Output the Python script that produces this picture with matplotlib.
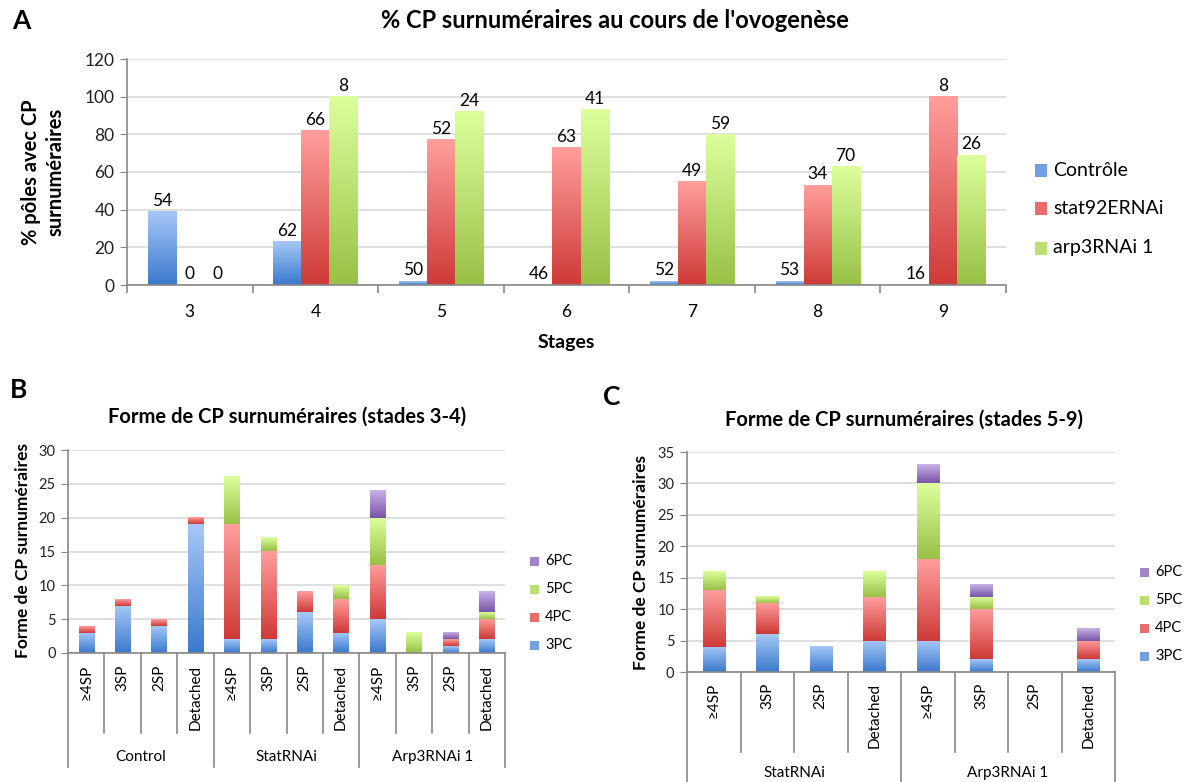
import numpy as np
import matplotlib
matplotlib.use('Agg')
import matplotlib.pyplot as plt
from matplotlib.colors import LinearSegmentedColormap
from matplotlib.patches import Rectangle

plt.rcParams['font.family'] = ['Lato', 'DejaVu Sans']

# Panel A: % of poles with supernumerary CP per stage, with n above each bar
stages = ['3', '4', '5', '6', '7', '8', '9']
ctrl_pct = [39, 23, 2, 0, 2, 2, 0]
stat_pct = [0, 82, 77, 73, 55, 53, 100]
arp_pct = [0, 100, 92, 93, 80, 63, 69]
ctrl_n = [54, 62, 50, 46, 52, 53, 16]
stat_n = [0, 66, 52, 63, 49, 34, 8]
arp_n = [0, 8, 24, 41, 59, 70, 26]
series_a = ['Contrôle', 'stat92ERNAi', 'arp3RNAi 1']

# Panels B and C: shape of supernumerary CP (stacked 3PC..6PC)
shapes = ['≥4SP', '3SP', '2SP', 'Detached']
layers = ['3PC', '4PC', '5PC', '6PC']

groups_b = ['Control', 'StatRNAi', 'Arp3RNAi 1']
b_3pc = [3, 7, 4, 19, 2, 2, 6, 3, 5, 0, 1, 2]
b_4pc = [1, 1, 1, 1, 17, 13, 3, 5, 8, 0, 1, 3]
b_5pc = [0, 0, 0, 0, 7, 2, 0, 2, 7, 3, 0, 1]
b_6pc = [0, 0, 0, 0, 0, 0, 0, 0, 4, 0, 1, 3]

groups_c = ['StatRNAi', 'Arp3RNAi 1']
c_3pc = [4, 6, 4, 5, 5, 2, 0, 2]
c_4pc = [9, 5, 0, 7, 13, 8, 0, 3]
c_5pc = [3, 1, 0, 4, 12, 2, 0, 0]
c_6pc = [0, 0, 0, 0, 3, 2, 0, 2]

# (light top, dark bottom) gradient colours
BLUE = ('#A6C8F7', '#3B79CD')
RED = ('#FF9E9C', '#CE3A37')
GREEN = ('#DDFF9C', '#98C146')
PURPLE = ('#C8B2E8', '#7954A8')
GRID = '#D9D9D9'
AXIS = '#888888'

W, H = 1185, 782


def px_rect(left, top, right, bottom):
    return [left / W, 1 - bottom / H, (right - left) / W, (bottom - top) / H]


def fill_gradient(ax, bars, light, dark):
    cmap = LinearSegmentedColormap.from_list('grad', [dark, light])
    grad = np.linspace(0, 1, 100).reshape(-1, 1)
    for b in bars:
        h = b.get_height()
        if h <= 0:
            continue
        x0, y0, w = b.get_x(), b.get_y(), b.get_width()
        ax.imshow(grad, cmap=cmap, origin='lower', aspect='auto',
                  extent=(x0, x0 + w, y0, y0 + h), zorder=2,
                  interpolation='bilinear')


def mid(c):
    a = np.array(matplotlib.colors.to_rgb(c[0]))
    b = np.array(matplotlib.colors.to_rgb(c[1]))
    return tuple((a + b) / 2)


def legend_px(fig, x, ys, labels, colors, size, box_w, box_h):
    for y, lab, col in zip(ys, labels, colors):
        fig.add_artist(Rectangle(((x) / W, 1 - (y + box_h / 2) / H),
                                 box_w / W, box_h / H, facecolor=mid(col),
                                 edgecolor='none', transform=fig.transFigure))
        fig.text((x + box_w + 6) / W, 1 - y / H, lab, fontsize=size,
                 ha='left', va='center')


def style_axes(ax, ymax, ystep, size):
    ax.set_ylim(0, ymax)
    ax.set_yticks(np.arange(0, ymax + 1, ystep))
    ax.yaxis.grid(True, color=GRID, lw=1.2)
    ax.set_axisbelow(True)
    for s in ['top', 'right']:
        ax.spines[s].set_visible(False)
    for s in ['left', 'bottom']:
        ax.spines[s].set_color(AXIS)
        ax.spines[s].set_linewidth(1.2)
    ax.tick_params(axis='y', length=5, color=AXIS, labelsize=size, pad=4,
                   labelcolor='#222222')


fig = plt.figure(figsize=(11.85, 7.82), dpi=100)

# ---------------- A ----------------
ax = fig.add_axes(px_rect(127, 59, 1006, 285))
x = np.arange(len(stages))
w = 0.223
for i, (vals, ns, col) in enumerate([(ctrl_pct, ctrl_n, BLUE),
                                     (stat_pct, stat_n, RED),
                                     (arp_pct, arp_n, GREEN)]):
    bars = ax.bar(x + (i - 1) * w, vals, w, color='none', edgecolor='none')
    fill_gradient(ax, bars, *col)
    for b, n in zip(bars, ns):
        ax.annotate(str(n), (b.get_x() + w / 2, b.get_height()),
                    xytext=(0, 2), textcoords='offset points',
                    ha='center', va='bottom', fontsize=12.5)
style_axes(ax, 120, 20, 12.5)
ax.set_xlim(-0.5, len(stages) - 0.5)
ax.set_xticks(x)
ax.set_xticklabels(stages, fontsize=12.5)
ax.set_xticks(np.arange(len(stages) + 1) - 0.5, minor=True)
ax.tick_params(axis='x', which='major', length=0, pad=14)
ax.tick_params(axis='x', which='minor', length=6, color=AXIS, width=1.2)
ax.set_xlabel('Stages', fontsize=14, fontweight='bold', labelpad=10)

fig.text(43 / W, 1 - 172 / H, '% pôles avec CP\nsurnuméraires', rotation=90,
         ha='center', va='center', fontsize=14.5, fontweight='bold',
         linespacing=1.3)
fig.text(615 / W, 1 - 20 / H, "% CP surnuméraires au cours de l'ovogenèse",
         ha='center', va='center', fontsize=17, fontweight='bold')
fig.text(21 / W, 1 - 21 / H, 'A', ha='center', va='center', fontsize=19,
         fontweight='bold')
legend_px(fig, 1035, [170, 208, 248], series_a, [BLUE, RED, GREEN],
          14, 12, 13)


# ---------------- B and C ----------------
def stacked_panel(rect, groups, stacks, ymax, ystep, inner_px, group_px,
                  sub_px, group_lab_px):
    ax = fig.add_axes(px_rect(*rect))
    h_px = rect[3] - rect[1]
    n = len(groups) * len(shapes)
    pos = np.arange(n)
    bottom = np.zeros(n)
    for vals, col in zip(stacks, [BLUE, RED, GREEN, PURPLE]):
        bars = ax.bar(pos, vals, 0.42, bottom=bottom, color='none',
                      edgecolor='none')
        fill_gradient(ax, bars, *col)
        bottom += np.array(vals)
    style_axes(ax, ymax, ystep, 10.5)
    ax.set_xlim(-0.5, n - 0.5)
    ax.set_xticks([])
    tr = ax.get_xaxis_transform()
    for k in range(n + 1):
        depth = group_px if k % len(shapes) == 0 else inner_px
        ax.plot([k - 0.5, k - 0.5], [0, -depth / h_px], color=AXIS, lw=1.2,
                transform=tr, clip_on=False)
    for k in range(n):
        ax.text(k, -sub_px / h_px, shapes[k % len(shapes)], rotation=90,
                ha='center', va='top', fontsize=11, transform=tr)
    for g, name in enumerate(groups):
        ax.text(g * len(shapes) + (len(shapes) - 1) / 2, -group_lab_px / h_px,
                name, ha='center', va='center', fontsize=11, transform=tr)
    return ax


stacked_panel((68, 450, 505, 653), groups_b, [b_3pc, b_4pc, b_5pc, b_6pc],
              30, 5, 80, 114, 12, 104)
fig.text(23 / W, 1 - 551 / H, 'Forme de CP surnuméraires', rotation=90,
         ha='center', va='center', fontsize=12.5, fontweight='bold')
fig.text(287 / W, 1 - 417 / H, 'Forme de CP surnuméraires (stades 3-4)',
         ha='center', va='center', fontsize=14.5, fontweight='bold')
fig.text(19 / W, 1 - 390 / H, 'B', ha='center', va='center', fontsize=19,
         fontweight='bold')
legend_px(fig, 530, [561, 589, 617, 645], layers[::-1],
          [PURPLE, GREEN, RED, BLUE], 10.5, 9, 9)

stacked_panel((687, 452, 1115, 672), groups_c, [c_3pc, c_4pc, c_5pc, c_6pc],
              35, 5, 80, 115, 11, 101)
fig.text(641 / W, 1 - 562 / H, 'Forme de CP surnuméraires', rotation=90,
         ha='center', va='center', fontsize=12.5, fontweight='bold')
fig.text(904 / W, 1 - 420 / H, 'Forme de CP surnuméraires (stades 5-9)',
         ha='center', va='center', fontsize=14.5, fontweight='bold')
fig.text(612 / W, 1 - 397 / H, 'C', ha='center', va='center', fontsize=19,
         fontweight='bold')
legend_px(fig, 1140, [572, 600, 628, 656], layers[::-1],
          [PURPLE, GREEN, RED, BLUE], 10.5, 9, 9)

fig.savefig('out.png', dpi=100)
